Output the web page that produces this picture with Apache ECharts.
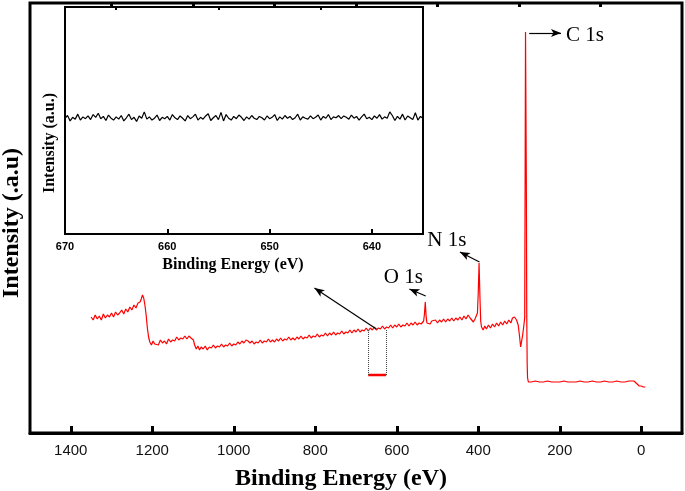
<!DOCTYPE html>
<html>
<head>
<meta charset="utf-8">
<script src="https://cdn.jsdelivr.net/npm/echarts@6/dist/echarts.min.js"></script>
<style>
html,body{margin:0;padding:0;background:#fff;}
#chart{width:685px;height:491px;}
</style>
</head>
<body>
<div id="chart"></div>
<script>
// ---- Data ----
// Survey spectrum: [binding energy (eV), intensity (a.u.)]
const survey = [
[1350,116],[1345,113],[1340,118],[1335,114],[1330,117],[1325,113],[1320,119],[1315,115],[1310,118],[1305,116],
[1300,120],[1295,116],[1290,121],[1285,118],[1280,120],[1275,123],[1270,119],[1265,124],[1260,121],[1255,126],
[1250,123],[1245,128],[1240,125],[1235,130],[1230,131],[1227,134],[1224,138],[1221,135],[1218,128],[1215,118],
[1212,105],[1209,96],[1206,91],[1202,88],[1198,92],[1194,89],[1190,91],[1185,88],[1180,93],[1175,90],
[1170,92],[1165,89],[1160,94],[1155,91],[1150,93],[1145,92],[1140,96],[1135,93],[1130,95],[1125,94],
[1120,97],[1115,94],[1110,97],[1105,95],[1102,97],[1099,93],[1096,88],[1092,84],[1088,87],[1084,83],
[1080,86],[1075,84],[1070,87],[1065,83],[1060,86],[1055,85],[1050,88],[1045,85],[1040,87],[1035,86],
[1030,89],[1025,86],[1020,88],[1015,87],[1010,90],[1005,87],[1000,89],[995,88],[990,91],[985,89],
[980,92],[975,90],[970,93],[965,92],[960,90],[955,92],[950,89],[945,91],[940,90],[935,93],
[930,90],[925,92],[920,91],[915,94],[910,91],[905,93],[900,91],[895,94],[890,92],[885,95],
[880,92],[875,94],[870,93],[865,96],[860,93],[855,95],[850,93],[845,96],[840,94],[835,97],
[830,94],[825,96],[820,95],[815,98],[810,95],[805,97],[800,96],[795,99],[790,96],[785,98],
[780,97],[775,100],[770,97],[765,100],[760,98],[755,101],[750,98],[745,100],[740,99],[735,102],
[730,99],[725,101],[720,100],[715,103],[710,100],[705,103],[700,101],[695,104],[690,101],[685,103],
[680,102],[675,105],[670,102],[665,105],[660,103],[655,106],[650,103],[645,105],[640,104],[635,107],
[630,104],[625,106],[620,105],[615,108],[610,105],[605,108],[600,106],[595,109],[590,106],[585,108],
[580,107],[575,110],[570,107],[565,110],[560,108],[555,111],[550,108],[545,110],[540,109],[536,111],
[534,112],[532,119],[530,131],[528,117],[526,110],[522,112],[518,109],[514,112],[510,110],[505,113],
[500,110],[495,113],[490,111],[485,114],[480,111],[475,114],[470,112],[465,115],[460,112],[455,115],
[450,113],[445,116],[440,113],[435,117],[430,114],[425,118],[420,115],[416,113],[412,111],[408,114],
[404,115],[402,120],[400,140],[398,170],[396,138],[394,112],[392,106],[388,103],[384,107],[380,104],
[375,108],[370,105],[365,109],[360,106],[355,110],[350,107],[345,111],[340,108],[335,112],[330,109],
[325,113],[320,110],[316,115],[311,116],[306,113],[302,108],[299,98],[296,86],[294,88],[291,98],
[288,108],[286,115],[285,250],[284,401],[283,401],[282,250],[281,120],[280,70],[279,55],[277,51],
[270,51],[260,52],[250,51],[240,51],[230,52],[220,51],[210,51],[200,51],[190,52],[180,51],
[170,51],[160,51],[150,52],[140,51],[130,51],[120,52],[110,51],[100,51],[90,52],[80,51],
[70,51],[60,52],[50,51],[40,51],[30,52],[25,52],[21,53],[18,52],[14,50],[10,49],
[5,47],[0,47],[-5,46],[-10,46]
];

// Inset (zoomed region 670-635 eV): intensity readings, sampled every 0.25 eV from 670 eV
const insetStartEV = 670;
const insetStepEV = 0.25;
const insetIntensity = [
51.0,51.6,50.4,51.2,50.8,51.9,50.6,51.3,50.9,51.5,
50.7,51.8,51.2,52.1,50.9,51.4,50.5,51.7,51.0,50.6,
51.3,50.8,51.6,50.4,51.1,51.9,50.7,51.2,50.3,51.5,
51.0,52.4,50.8,51.3,50.6,51.0,51.7,50.5,51.2,50.9,
51.4,50.6,51.8,51.1,50.7,51.5,51.0,50.4,51.6,50.9,
51.3,51.9,50.6,51.2,50.8,51.5,52.0,50.5,51.1,51.6,
50.7,52.3,50.4,51.8,51.0,50.6,51.4,50.9,51.7,51.2,
50.5,51.3,50.8,51.6,51.0,50.7,51.4,51.1,50.6,51.5,
50.9,51.2,51.8,50.5,51.3,50.8,51.6,51.0,51.4,50.7,
51.1,51.9,50.6,51.3,51.0,50.8,51.5,50.9,51.2,51.7,
50.6,51.4,51.0,51.8,50.7,51.3,51.1,51.6,50.9,51.5,
51.2,50.8,51.7,51.0,51.4,50.6,51.3,51.9,50.9,51.2,
50.7,51.5,51.0,51.8,50.8,51.3,51.0,52.4,51.6,50.5,
51.4,50.8,51.9,50.6,51.5,51.1,50.7,52.2,50.6,51.4,51.0
];

// Zoomed-region marker on the survey (eV range and level)
const regionEV = [670, 626];
const regionLevel = 58;
const regionTop = 103;

// Tick labels
const mainMajorTicks = [0,200,400,600,800,1000,1200,1400];
const mainMinorTicks = [100,300,500,700,900,1100,1300];
const insetMajorTicks = [640,650,660,670];
const insetMinorTicks = [645,655,665];

// Peak annotations (label text, label centre, arrow tail, arrow head) in data units
const peakLabels = ['C 1s','N 1s','O 1s'];
const peakLabelPos = [[138,398],[477,193],[584,156]];
const peakArrowTail = [[275,400],[397,171],[529,137]];
const peakArrowHead = [[197,400],[445,181],[569,144]];
const zoomArrowTail = [650,104];
const zoomArrowHead = [802,145];

// ---- Chart ----
const chart = echarts.init(document.getElementById('chart'), null, {renderer:'canvas'});
const serif = 'Liberation Serif, Times New Roman, serif';
const sans = 'Liberation Sans, Arial, sans-serif';

const insetData = insetIntensity.map((v,i)=>[insetStartEV - i*insetStepEV, v]);
const surveyArrows = peakArrowTail.map((t,i)=>[{coord:t},{coord:peakArrowHead[i]}]);
surveyArrows.push([{coord:zoomArrowTail},{coord:zoomArrowHead}]);
const plain = v => String(v);

const option = {
  animation:false,
  backgroundColor:'#fff',
  grid:[
    {left:30, top:3, right:3, bottom:58, show:true, borderColor:'#000', borderWidth:3, backgroundColor:'transparent'},
    {left:65, top:7, width:358, height:227, show:true, borderColor:'#000', borderWidth:2, backgroundColor:'#fff'}
  ],
  xAxis:[
    {type:'value', gridIndex:0, min:-100, max:1500, inverse:true,
     axisLine:{show:true, lineStyle:{color:'#000', width:3}},
     axisTick:{show:true, inside:true, length:7, lineStyle:{color:'#000', width:3}, customValues:mainMajorTicks},
     axisLabel:{show:true, margin:10, color:'#111', fontFamily:sans, fontSize:15, customValues:mainMajorTicks, formatter:plain},
     splitLine:{show:false}},
    {type:'value', gridIndex:0, min:-100, max:1500, inverse:true,
     axisLine:{show:false},
     axisTick:{show:true, inside:true, length:4, lineStyle:{color:'#000', width:3}, customValues:mainMinorTicks},
     axisLabel:{show:false},
     splitLine:{show:false}},
    {type:'value', gridIndex:1, min:635, max:670, inverse:true,
     axisLine:{show:true, lineStyle:{color:'#000', width:2}},
     axisTick:{show:true, inside:true, length:5, lineStyle:{color:'#000', width:2}, customValues:insetMajorTicks},
     axisLabel:{show:true, margin:7, color:'#000', fontFamily:sans, fontWeight:'bold', fontSize:11, customValues:insetMajorTicks, formatter:plain},
     splitLine:{show:false}},
    {type:'value', gridIndex:1, min:635, max:670, inverse:true,
     axisLine:{show:false},
     axisTick:{show:true, inside:true, length:3, lineStyle:{color:'#000', width:2}, customValues:insetMinorTicks},
     axisLabel:{show:false},
     splitLine:{show:false}}
  ],
  yAxis:[
    {type:'value', gridIndex:0, min:0, max:430, show:false, splitLine:{show:false}},
    {type:'value', gridIndex:1, min:25.5, max:75.5, show:false, splitLine:{show:false}}
  ],
  series:[
    {type:'line', name:'survey', xAxisIndex:0, yAxisIndex:0, data:survey, showSymbol:false, symbol:'none',
     lineStyle:{color:'#ff0000', width:1.2}, itemStyle:{color:'#ff0000'}, z:3,
     markLine:{silent:true, symbol:['none','arrow'], symbolSize:[6,10], precision:2,
       label:{show:false}, lineStyle:{color:'#000', width:1.2, type:'solid'}, emphasis:{disabled:true},
       data:surveyArrows},
     markPoint:{silent:true, symbol:'circle', symbolSize:0,
       label:{show:true, position:'inside', color:'#000', fontFamily:serif, fontSize:21, formatter:p=>p.name},
       data:peakLabels.map((n,i)=>({name:n, coord:peakLabelPos[i]}))}
    },
    {type:'line', name:'region', xAxisIndex:0, yAxisIndex:0,
     data:[[regionEV[0],regionLevel],[regionEV[1],regionLevel]], showSymbol:false, symbol:'none',
     lineStyle:{color:'#ff0000', width:2.5}, z:3,
     markLine:{silent:true, symbol:['none','none'], label:{show:false},
       lineStyle:{color:'#444', width:1, type:'dotted'}, emphasis:{disabled:true},
       data:[[{coord:[regionEV[0],regionLevel]},{coord:[regionEV[0],regionTop]}],
             [{coord:[regionEV[1],regionLevel]},{coord:[regionEV[1],regionTop]}]]}
    },
    {type:'line', name:'inset', xAxisIndex:2, yAxisIndex:1, data:insetData, showSymbol:false, symbol:'none',
     lineStyle:{color:'#000', width:1.2}, z:5}
  ],
  graphic:[
    {type:'text', x:341, y:479, z:10, style:{text:'Binding Energy (eV)', fill:'#000', font:'bold 24px '+serif, align:'center', verticalAlign:'middle'}},
    {type:'text', x:12, y:223, rotation:Math.PI/2, z:10, style:{text:'Intensity (.a.u)', fill:'#000', font:'bold 24px '+serif, align:'center', verticalAlign:'middle'}},
    {type:'text', x:233, y:265, z:10, style:{text:'Binding Energy (eV)', fill:'#000', font:'bold 16px '+serif, align:'center', verticalAlign:'middle'}},
    {type:'text', x:50, y:143, rotation:Math.PI/2, z:10, style:{text:'Intensity (a.u.)', fill:'#000', font:'bold 16px '+serif, align:'center', verticalAlign:'middle'}}
  ]
};
chart.setOption(option);
</script>
</body>
</html>
